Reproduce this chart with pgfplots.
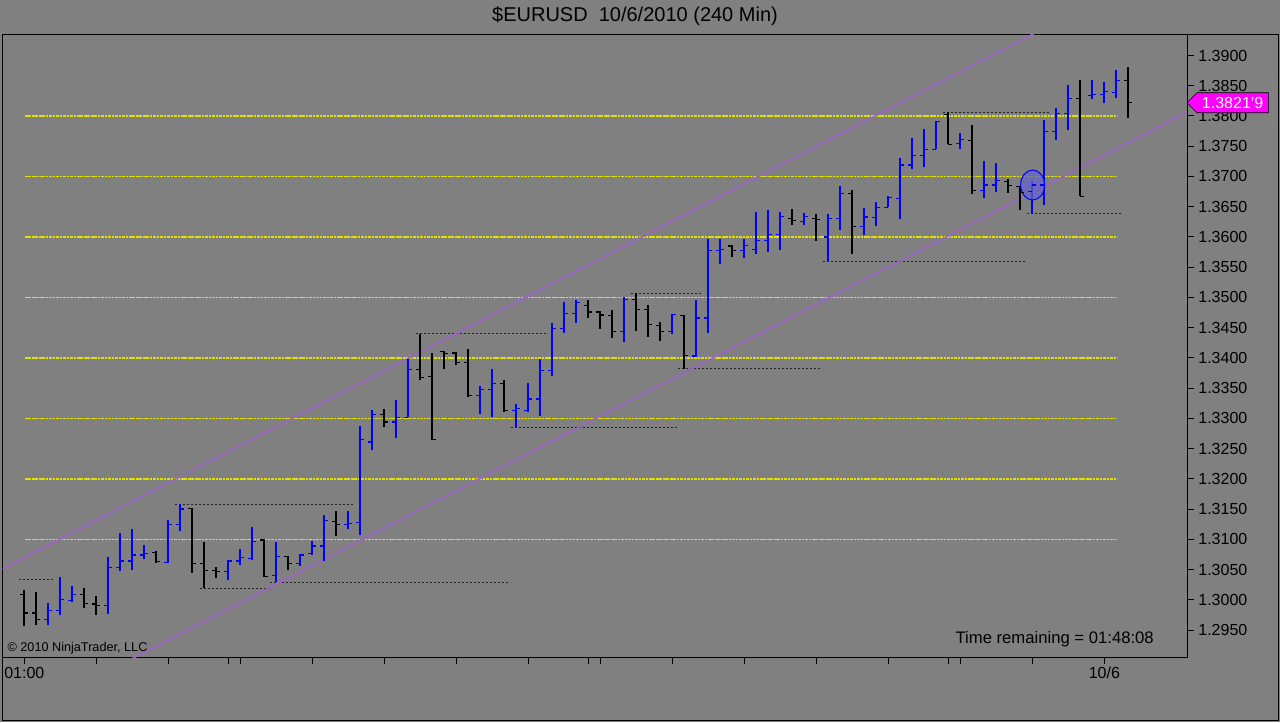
\documentclass[border=0pt]{standalone}
\usepackage{pgfplots}
\pgfplotsset{compat=1.18}
\usepackage{pgfplotstable}
\usepackage{fontspec}
\setmainfont{Liberation Sans}
\definecolor{bg}{RGB}{128,128,128}
\definecolor{chan}{RGB}{155,100,200}
\definecolor{gridyel}{RGB}{225,225,0}
\definecolor{circfill}{RGB}{100,100,205}
\definecolor{pmark}{RGB}{255,0,255}
\pgfdeclareplotmark{otick}{\pgfpathmoveto{\pgfqpoint{-3pt}{0pt}}\pgfpathlineto{\pgfqpoint{0pt}{0pt}}\pgfusepathqstroke}
\pgfdeclareplotmark{ctick}{\pgfpathmoveto{\pgfqpoint{0pt}{0pt}}\pgfpathlineto{\pgfqpoint{3pt}{0pt}}\pgfusepathqstroke}
\pgfdeclareplotmark{nothing}{}

\pgfplotstableread{
i o h l c
2 1.2968 1.2995 1.2958 1.2982
3 1.2982 1.3038 1.2974 1.3000
4 1.2999 1.3023 1.2997 1.3009
7 1.2991 1.3070 1.2977 1.3054
8 1.3054 1.3110 1.3047 1.3064
9 1.3064 1.3117 1.3050 1.3074
10 1.3074 1.3090 1.3067 1.3076
12 1.3061 1.3132 1.3061 1.3125
13 1.3125 1.3158 1.3114 1.3150
17 1.3047 1.3065 1.3033 1.3064
18 1.3064 1.3084 1.3058 1.3070
19 1.3068 1.3121 1.3066 1.3097
21 1.3040 1.3096 1.3029 1.3072
23 1.3060 1.3076 1.3056 1.3074
24 1.3076 1.3097 1.3074 1.3089
25 1.3089 1.3141 1.3064 1.3131
27 1.3124 1.3147 1.3117 1.3126
28 1.3128 1.3287 1.3107 1.3265
29 1.3261 1.3313 1.3247 1.3306
31 1.3294 1.3331 1.3267 1.3302
32 1.3302 1.3398 1.3302 1.3381
38 1.3338 1.3354 1.3308 1.3348
39 1.3348 1.3382 1.3303 1.3358
41 1.3313 1.3324 1.3286 1.3316
42 1.3313 1.3358 1.3310 1.3332
43 1.3332 1.3398 1.3304 1.3379
44 1.3379 1.3458 1.3370 1.3449
45 1.3449 1.3493 1.3441 1.3473
46 1.3473 1.3496 1.3458 1.3491
50 1.3443 1.3501 1.3426 1.3496
54 1.3443 1.3473 1.3439 1.3472
56 1.3403 1.3495 1.3402 1.3466
57 1.3466 1.3596 1.3441 1.3577
58 1.3577 1.3596 1.3555 1.3579
60 1.3577 1.3596 1.3566 1.3586
61 1.3579 1.3641 1.3572 1.3594
62 1.3594 1.3644 1.3575 1.3604
63 1.3604 1.3641 1.3578 1.3634
65 1.3626 1.3639 1.3620 1.3634
67 1.3600 1.3638 1.3559 1.3630
68 1.3630 1.3684 1.3612 1.3672
70 1.3617 1.3648 1.3603 1.3633
71 1.3632 1.3658 1.3618 1.3649
72 1.3649 1.3668 1.3649 1.3665
73 1.3664 1.3730 1.3629 1.3719
74 1.3719 1.3763 1.3712 1.3735
75 1.3735 1.3778 1.3715 1.3745
76 1.3745 1.3792 1.3745 1.3791
78 1.3754 1.3772 1.3746 1.3761
80 1.3677 1.3725 1.3664 1.3686
81 1.3686 1.3722 1.3674 1.3693
84 1.3675 1.3693 1.3638 1.3686
85 1.3686 1.3793 1.3652 1.3775
86 1.3775 1.3813 1.3761 1.3804
87 1.3804 1.3851 1.3777 1.3829
89 1.3834 1.3859 1.3828 1.3836
90 1.3836 1.3857 1.3821 1.3840
91 1.3839 1.3876 1.3829 1.3859
}\upbars

\pgfplotstableread{
i o h l c
0 1.3009 1.3016 1.2956 1.2978
1 1.2978 1.3013 1.2958 1.2968
5 1.3009 1.3019 1.2986 1.2994
6 1.2993 1.3006 1.2975 1.2991
11 1.3078 1.3080 1.3060 1.3063
14 1.3151 1.3152 1.3045 1.3060
15 1.3060 1.3096 1.3019 1.3048
16 1.3048 1.3054 1.3036 1.3047
20 1.3099 1.3101 1.3037 1.3038
22 1.3071 1.3072 1.3050 1.3060
26 1.3130 1.3147 1.3106 1.3124
30 1.3306 1.3316 1.3285 1.3294
33 1.3381 1.3440 1.3363 1.3367
34 1.3369 1.3408 1.3264 1.3265
35 1.3411 1.3412 1.3382 1.3407
36 1.3408 1.3410 1.3388 1.3393
37 1.3393 1.3414 1.3335 1.3338
40 1.3358 1.3364 1.3311 1.3313
47 1.3487 1.3495 1.3466 1.3476
48 1.3476 1.3478 1.3448 1.3471
49 1.3470 1.3479 1.3433 1.3443
51 1.3496 1.3507 1.3444 1.3480
52 1.3480 1.3487 1.3435 1.3455
53 1.3454 1.3460 1.3428 1.3443
55 1.3470 1.3471 1.3382 1.3404
59 1.3585 1.3586 1.3567 1.3577
64 1.3631 1.3647 1.3619 1.3627
66 1.3630 1.3638 1.3594 1.3629
69 1.3672 1.3677 1.3572 1.3617
77 1.3803 1.3806 1.3753 1.3753
79 1.3760 1.3785 1.3671 1.3677
82 1.3692 1.3695 1.3673 1.3685
83 1.3683 1.3685 1.3644 1.3674
88 1.3829 1.3859 1.3667 1.3667
92 1.3859 1.3881 1.3797 1.3822
}\dnbars

\begin{document}
\begin{tikzpicture}
\fill[bg] (0,0) rectangle (960pt,541.5pt);
\useasboundingbox (0,0) rectangle (960pt,541.5pt);
\draw[black, line width=0.75pt] (1.5pt,515.25pt) -- (1.5pt,1.1pt) -- (959.2pt,1.1pt) -- (959.2pt,515.25pt) -- cycle;
\begin{axis}[
  at={(1.875pt,48.75pt)}, anchor=south west,
  width=888.375pt, height=466.5pt, scale only axis,
  xmin=-1.817, xmax=96.89, ymin=1.290535, ymax=1.393395,
  axis background/.style={fill=bg},
  axis line style={black, line width=0.75pt},
  tick style={black, line width=0.75pt},
  tick align=outside, major tick length=5pt,
  xtick pos=bottom, ytick pos=right, yticklabel pos=right,
  xtick={0,6,12,18,24,30,36,42,48,54,60,66,72,78,84,90},
  xticklabels={01:00,{},{},{},{},{},{},{},{},{},{},{},{},{},{},10/6},
  extra x ticks={17,47,77}, extra x tick labels={},
  ytick={1.295,1.3,1.305,1.31,1.315,1.32,1.325,1.33,1.335,1.34,1.345,1.35,1.355,1.36,1.365,1.37,1.375,1.38,1.385,1.39},
  scaled y ticks=false,
  yticklabel style={/pgf/number format/.cd, fixed, fixed zerofill, precision=4, assume math mode=true},
  tick label style={font=\fontsize{12}{14}\selectfont, text=black},
  xticklabel style={yshift=1pt},
]
% yellow grid lines
\addplot[gridyel, line width=1.1pt, dash pattern=on 2pt off 0.6pt] coordinates {(0.06,1.31) (91.06,1.31)};
\addplot[gridyel, line width=1.1pt, dash pattern=on 2pt off 0.6pt] coordinates {(0.06,1.32) (91.06,1.32)};
\addplot[gridyel, line width=1.1pt, dash pattern=on 2pt off 0.6pt] coordinates {(0.06,1.33) (91.06,1.33)};
\addplot[gridyel, line width=1.1pt, dash pattern=on 2pt off 0.6pt] coordinates {(0.06,1.34) (91.06,1.34)};
\addplot[gridyel, line width=1.1pt, dash pattern=on 2pt off 0.6pt] coordinates {(0.06,1.35) (91.06,1.35)};
\addplot[gridyel, line width=1.1pt, dash pattern=on 2pt off 0.6pt] coordinates {(0.06,1.36) (91.06,1.36)};
\addplot[gridyel, line width=1.1pt, dash pattern=on 2pt off 0.6pt] coordinates {(0.06,1.37) (91.06,1.37)};
\addplot[gridyel, line width=1.1pt, dash pattern=on 2pt off 0.6pt] coordinates {(0.06,1.38) (91.06,1.38)};
% swing high / low lines
\addplot[black!85, line width=0.75pt, dash pattern=on 1.5pt off 1.5pt] coordinates {(-0.44,1.3033) (2.5,1.3033)};
\addplot[black!85, line width=0.75pt, dash pattern=on 1.5pt off 1.5pt] coordinates {(12.56,1.3158) (27.5,1.3158)};
\addplot[black!85, line width=0.75pt, dash pattern=on 1.5pt off 1.5pt] coordinates {(14.6,1.3019) (20.5,1.3019)};
\addplot[black!85, line width=0.75pt, dash pattern=on 1.5pt off 1.5pt] coordinates {(20.5,1.3029) (40.5,1.3029)};
\addplot[black!85, line width=0.75pt, dash pattern=on 1.5pt off 1.5pt] coordinates {(32.6,1.3440) (43.6,1.3440)};
\addplot[black!85, line width=0.75pt, dash pattern=on 1.5pt off 1.5pt] coordinates {(40.56,1.3285) (54.47,1.3285)};
\addplot[black!85, line width=0.75pt, dash pattern=on 1.5pt off 1.5pt] coordinates {(50.56,1.3507) (56.5,1.3507)};
\addplot[black!85, line width=0.75pt, dash pattern=on 1.5pt off 1.5pt] coordinates {(54.47,1.3382) (66.47,1.3382)};
\addplot[black!85, line width=0.75pt, dash pattern=on 1.5pt off 1.5pt] coordinates {(66.56,1.3559) (83.4,1.3559)};
\addplot[black!85, line width=0.75pt, dash pattern=on 1.5pt off 1.5pt] coordinates {(76.56,1.3806) (85.5,1.3806)};
\addplot[black!85, line width=0.75pt, dash pattern=on 1.5pt off 1.5pt] coordinates {(83.56,1.3638) (91.5,1.3638)};
% channel
\addplot[chan, line width=1.2pt] coordinates {(-3,1.30389) (100,1.40998)};
\addplot[chan, line width=1.2pt] coordinates {(-3,1.27793) (100,1.38381)};
% highlight circle
\addplot[only marks, mark=*, mark size=11.25pt, mark options={xscale=0.8, draw=blue, fill=circfill, fill opacity=0.75, line width=0.75pt}] coordinates {(84.03,1.36859)};
% OHLC bars
\addplot[blue, only marks, mark=nothing, error bars/.cd, y dir=plus, y explicit, error mark=none, error bar style={blue, line width=1.5pt}] table[x=i, y=l, y error expr=\thisrow{h}-\thisrow{l}] {\upbars};
\addplot[blue, only marks, mark=otick, mark options={line width=0.9pt}] table[x=i, y=o] {\upbars};
\addplot[blue, only marks, mark=ctick, mark options={line width=0.9pt}] table[x=i, y=c] {\upbars};
\addplot[black, only marks, mark=nothing, error bars/.cd, y dir=plus, y explicit, error mark=none, error bar style={black, line width=1.3pt}] table[x=i, y=l, y error expr=\thisrow{h}-\thisrow{l}] {\dnbars};
\addplot[black, only marks, mark=otick, mark options={line width=0.9pt}] table[x=i, y=o] {\dnbars};
\addplot[black, only marks, mark=ctick, mark options={line width=0.9pt}] table[x=i, y=c] {\dnbars};
\coordinate (pm) at (axis cs:96.89,1.38219);
\end{axis}
% price marker
\fill[pmark, draw=black, line width=0.5pt] (pm) -- ++(7.5pt,7.5pt) -- ++(53.5pt,0) -- ++(0,-15pt) -- ++(-53.5pt,0) -- cycle;
\node[text=white, font=\fontsize{12}{14}\selectfont, anchor=center] at ([xshift=34.25pt]pm) {1.3821'9};
% texts
\node[font=\fontsize{15}{17}\selectfont, text=black] at (476.25pt,529.1pt) {\$EURUSD\ \ 10/6/2010 (240 Min)};
\node[font=\fontsize{12.5}{14}\selectfont, text=black, anchor=east, inner sep=0pt] at (865.5pt,62.25pt) {Time remaining = 01:48:08};
\node[font=\fontsize{9.5}{11}\selectfont, text=black, anchor=west, inner sep=0pt] at (5.5pt,55.5pt) {\textcopyright{} 2010 NinjaTrader, LLC};
\end{tikzpicture}
\end{document}
